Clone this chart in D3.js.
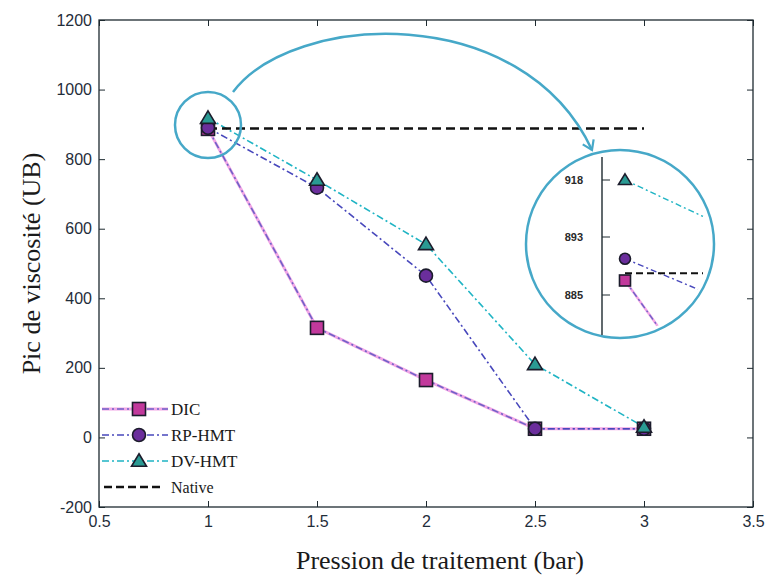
<!DOCTYPE html>
<html>
<head>
<meta charset="utf-8">
<script src="https://cdn.jsdelivr.net/npm/d3@7/dist/d3.min.js"></script>
<style>
  body { margin: 0; background: #fff; }
</style>
</head>
<body>
<svg width="766" height="578"></svg>
<script>
// data
var pressure = [1, 1.5, 2, 2.5, 3];
var dic = [887, 315, 165, 25, 25];
var rpHmt = [890, 718, 465, 25, 25];
var dvHmt = [918, 740, 555, 210, 30];
var nativeX = [1, 3];
var nativeVal = [888, 888];
var xTicks = [0.5, 1, 1.5, 2, 2.5, 3, 3.5];
var yTicks = [-200, 0, 200, 400, 600, 800, 1000, 1200];

// zoomed inset (schematic, broken scale)
var insetTicks = [885, 893, 918];
var insetX = [1, 1.1];
var insetDIC = [887, 872];
var insetRP = [890, 885.5];
var insetDV = [918, 902];
var insetNative = [888, 888];

var svg = d3.select("svg");
var plotL = 99, plotR = 753, plotT = 20, plotB = 507;

var x = d3.scaleLinear().domain([0.5, 3.5]).range([plotL, plotR]);
var y = d3.scaleLinear().domain([-200, 1200]).range([plotB, plotT]);

var series = [
  {name: "DIC", values: dic, shape: "square", fill: "#c2399c", line: "#6f62c8", under: "#f2a6e6"},
  {name: "RP-HMT", values: rpHmt, shape: "circle", fill: "#6b2e9c", line: "#4848bc", under: null},
  {name: "DV-HMT", values: dvHmt, shape: "triangle", fill: "#2a9a93", line: "#1fb4c4", under: null}
];

function drawMarker(g, shape, fill, s) {
  if (shape == "square") {
    g.append("rect").attr("x", -s / 2).attr("y", -s / 2).attr("width", s).attr("height", s);
  } else if (shape == "circle") {
    g.append("circle").attr("r", s / 2);
  } else {
    var h = s * 0.9;
    g.append("path").attr("d", "M0," + (-h * 0.62) + "L" + (s / 2 + 1) + "," + (h * 0.45) + "L" + (-s / 2 - 1) + "," + (h * 0.45) + "Z");
  }
  g.selectAll("*").attr("fill", fill).attr("stroke", "#1c1c2c").attr("stroke-width", 1.6);
}

var plain = function(d) { return String(d); };

// axes: ticks inward on all four sides
var axisColor = "#1e2a30";
var gl = svg.append("g").attr("transform", "translate(" + plotL + ",0)")
  .call(d3.axisLeft(y).tickValues(yTicks).tickFormat(plain).tickSize(-6).tickPadding(7));
var gb = svg.append("g").attr("transform", "translate(0," + plotB + ")")
  .call(d3.axisBottom(x).tickValues(xTicks).tickFormat(plain).tickSize(-6).tickPadding(9));
var gt = svg.append("g").attr("transform", "translate(0," + plotT + ")")
  .call(d3.axisTop(x).tickValues(xTicks).tickFormat("").tickSize(-6));
var gr = svg.append("g").attr("transform", "translate(" + plotR + ",0)")
  .call(d3.axisRight(y).tickValues(yTicks).tickFormat("").tickSize(-6));
[gl, gb, gt, gr].forEach(function(g) {
  g.select(".domain").remove();
  g.selectAll("line").attr("stroke", axisColor).attr("stroke-width", 1);
  g.selectAll("text").attr("fill", "#1f2d3a")
    .style("font-family", "'Liberation Sans', Arial, sans-serif").style("font-size", "16px");
});
svg.append("rect").attr("x", plotL).attr("y", plotT).attr("width", plotR - plotL).attr("height", plotB - plotT)
  .attr("fill", "none").attr("stroke", axisColor).attr("stroke-width", 1.3);

// axis titles
svg.append("text").attr("x", 440).attr("y", 569).attr("text-anchor", "middle")
  .style("font-family", "'Liberation Serif', 'Times New Roman', serif").style("font-size", "26px")
  .attr("fill", "#1a1a1a").text("Pression de traitement (bar)");
svg.append("text").attr("transform", "translate(40," + ((plotT + plotB) / 2) + ") rotate(-90)")
  .attr("text-anchor", "middle")
  .style("font-family", "'Liberation Serif', 'Times New Roman', serif").style("font-size", "26px")
  .attr("fill", "#1a1a1a").text("Pic de viscosité (UB)");

// series lines
var line = d3.line().x(function(d) { return x(d[0]); }).y(function(d) { return y(d[1]); });
series.forEach(function(s) {
  var pts = d3.zip(pressure, s.values);
  if (s.under) {
    svg.append("path").attr("d", line(pts)).attr("fill", "none")
      .attr("stroke", s.under).attr("stroke-width", 3);
  }
  svg.append("path").attr("d", line(pts)).attr("fill", "none")
    .attr("stroke", s.line).attr("stroke-width", 1.6).attr("stroke-dasharray", "7,3,2,3");
});

// native reference
svg.append("path").attr("d", line(d3.zip(nativeX, nativeVal))).attr("fill", "none")
  .attr("stroke", "#111").attr("stroke-width", 2.6).attr("stroke-dasharray", "9,5");

// markers
series.forEach(function(s) {
  pressure.forEach(function(p, i) {
    var g = svg.append("g").attr("transform", "translate(" + x(p) + "," + y(s.values[i]) + ")");
    drawMarker(g, s.shape, s.fill, 13);
  });
});

// highlight circle and arrow
var hl = {cx: x(1), cy: y(898), r: 33};
var ins = {cx: 620, cy: 244, r: 94};
var annColor = "#46a8c8";
svg.append("circle").attr("cx", hl.cx).attr("cy", hl.cy).attr("r", hl.r)
  .attr("fill", "none").attr("stroke", annColor).attr("stroke-width", 2.5);

svg.append("defs").append("marker").attr("id", "head")
  .attr("viewBox", "-10 -7 12 14").attr("markerWidth", 12).attr("markerHeight", 14)
  .attr("markerUnits", "userSpaceOnUse").attr("orient", "auto")
  .append("path").attr("d", "M-9,-6L0,0L-9,6").attr("fill", "none")
  .attr("stroke", annColor).attr("stroke-width", 2.2);

var sx = hl.cx + 25, sy = hl.cy - 33, ex = ins.cx - 28, ey = ins.cy - 94;
svg.append("path")
  .attr("d", "M" + sx + "," + sy + "C" + (sx + 60) + "," + (sy - 80) + " " + (ex - 70) + "," + (ey - 150) + " " + ex + "," + ey)
  .attr("fill", "none").attr("stroke", annColor).attr("stroke-width", 2.5)
  .attr("marker-end", "url(#head)");

// inset
var inset = svg.append("g");
inset.append("circle").attr("cx", ins.cx).attr("cy", ins.cy).attr("r", ins.r)
  .attr("fill", "#fff").attr("stroke", annColor).attr("stroke-width", 2.5);
svg.select("defs").append("clipPath").attr("id", "insclip")
  .append("circle").attr("cx", ins.cx).attr("cy", ins.cy).attr("r", ins.r - 4);

var ix = d3.scaleLinear().domain(insetX).range([ins.cx + 5, ins.cx + 83]);
var iy = d3.scaleLinear().domain(insetTicks).range([ins.cy + 51, ins.cy - 7, ins.cy - 64]);
var axX = ins.cx - 18;

inset.append("line").attr("x1", axX).attr("x2", axX).attr("y1", ins.cy - 87).attr("y2", ins.cy + 91)
  .attr("stroke", "#1e2a30").attr("stroke-width", 1.4);
insetTicks.forEach(function(t) {
  inset.append("line").attr("x1", axX).attr("x2", axX + 8).attr("y1", iy(t)).attr("y2", iy(t))
    .attr("stroke", "#1e2a30").attr("stroke-width", 1);
  inset.append("text").attr("x", axX - 19).attr("y", iy(t)).attr("dy", "0.35em")
    .attr("text-anchor", "end").attr("fill", "#2a2a2a")
    .style("font-family", "'Liberation Sans', Arial, sans-serif").style("font-size", "11px")
    .style("font-weight", "bold").text(t);
});

var iline = d3.line().x(function(d) { return ix(d[0]); }).y(function(d) { return iy(d[1]); });
var clipped = inset.append("g").attr("clip-path", "url(#insclip)");
var insetVals = [insetDIC, insetRP, insetDV];
series.forEach(function(s, k) {
  var pts = d3.zip(insetX, insetVals[k]);
  if (s.under) {
    clipped.append("path").attr("d", iline(pts)).attr("fill", "none")
      .attr("stroke", s.under).attr("stroke-width", 2.5);
  }
  clipped.append("path").attr("d", iline(pts)).attr("fill", "none")
    .attr("stroke", s.line).attr("stroke-width", 1.4).attr("stroke-dasharray", "6,3,2,3");
});
clipped.append("path").attr("d", iline(d3.zip(insetX, insetNative))).attr("fill", "none")
  .attr("stroke", "#111").attr("stroke-width", 2.2).attr("stroke-dasharray", "7,4");
series.forEach(function(s, k) {
  var g = inset.append("g").attr("transform", "translate(" + ix(insetX[0]) + "," + iy(insetVals[k][0]) + ")");
  drawMarker(g, s.shape, s.fill, 11);
});

// legend
var legendRows = [409, 435, 461];
series.forEach(function(s, i) {
  var ly = legendRows[i];
  if (s.under) {
    svg.append("line").attr("x1", 102).attr("x2", 168).attr("y1", ly).attr("y2", ly)
      .attr("stroke", s.under).attr("stroke-width", 3);
  }
  svg.append("line").attr("x1", 102).attr("x2", 168).attr("y1", ly).attr("y2", ly)
    .attr("stroke", s.line).attr("stroke-width", 1.6).attr("stroke-dasharray", "7,3,2,3");
  var g = svg.append("g").attr("transform", "translate(139," + ly + ")");
  drawMarker(g, s.shape, s.fill, 13);
  svg.append("text").attr("x", 171).attr("y", ly).attr("dy", "0.35em")
    .style("font-family", "'Liberation Serif', 'Times New Roman', serif").style("font-size", "17px")
    .attr("fill", "#1a1a1a").text(s.name);
});
svg.append("line").attr("x1", 104).attr("x2", 164).attr("y1", 487).attr("y2", 487)
  .attr("stroke", "#111").attr("stroke-width", 2.4).attr("stroke-dasharray", "8,4");
svg.append("text").attr("x", 171).attr("y", 487).attr("dy", "0.35em")
  .style("font-family", "'Liberation Serif', 'Times New Roman', serif").style("font-size", "16px")
  .attr("fill", "#1a1a1a").text("Native");
</script>
</body>
</html>
